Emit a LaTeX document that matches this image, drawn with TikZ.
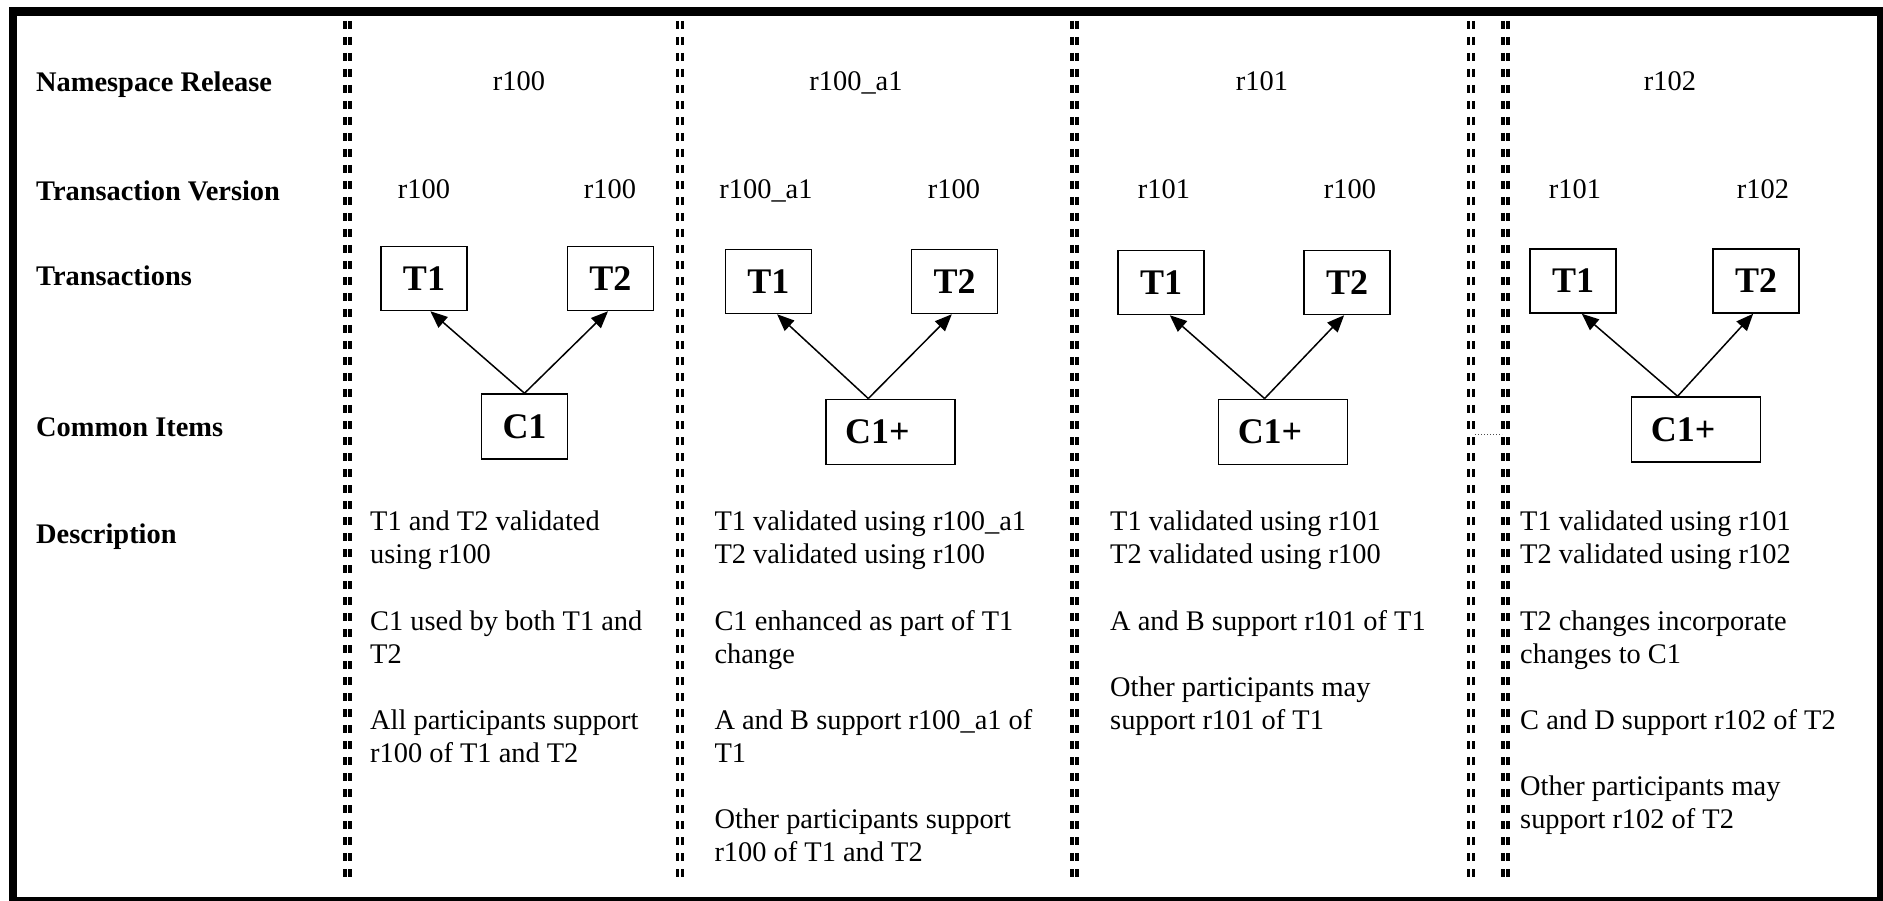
\documentclass[tikz,border=0pt]{standalone}
\usepackage{fontspec}
\setmainfont{Liberation Serif}
\usetikzlibrary{arrows.meta}
\begin{document}
\begin{tikzpicture}[x=1pt,y=-1pt,
  lbl/.style={font=\fontsize{28.4}{33}\selectfont\bfseries, anchor=base west, inner sep=0pt},
  txt/.style={font=\fontsize{28.4}{33}\selectfont, anchor=base west, inner sep=0pt},
  ver/.style={font=\fontsize{28.4}{33}\selectfont, anchor=base, inner sep=0pt},
  tbox/.style={draw, line width=1.5pt, minimum width=86pt, minimum height=64pt, font=\fontsize{36}{40}\selectfont\bfseries, inner sep=0pt},
  cbox/.style={tbox, minimum width=129pt, minimum height=65pt},
  arr/.style={-{Triangle[length=17pt,width=14pt]}, line width=1.5pt},
  sepline/.style={line width=3.3pt, dash pattern=on 8pt off 8pt},
  frame/.style={line width=8.5pt},
]
\useasboundingbox (0,0) rectangle (1883,901);
% frame
\draw[frame] (13,11.5) rectangle (1881.5,901.5);
% separators
\foreach \xx/\nm in {347.5/a,679.7/b,1074.5/c,1471/d,1505.5/e}{
  \coordinate (s\nm t) at (\xx,21);
  \coordinate (s\nm b) at (\xx,882);
  \draw[sepline] ([xshift=-2.5pt]s\nm t) -- ([xshift=-2.5pt]s\nm b);
  \draw[sepline] ([xshift=2.5pt]s\nm t) -- ([xshift=2.5pt]s\nm b);
}
\coordinate (dl) at (1475,434.5);
\coordinate (dr) at (1502,434.5);
\draw[dotted, line width=1pt, black!70] (dl) -- (dr);

% row labels
\node[lbl] (l1) at (36,91.5) {Namespace Release};
\node[lbl] (l2) at (36,200.7) {Transaction Version};
\node[lbl] (l3) at (36,286) {Transactions};
\node[lbl] (l4) at (36,436) {Common Items};
\node[lbl] (l5) at (36,543) {Description};

% namespace releases
\node[ver] (n1) at (519,90.7) {r100};
\node[ver] (n2) at (856,90.7) {r100\_a1};
\node[ver] (n3) at (1262,90.7) {r101};
\node[ver] (n4) at (1670,90.7) {r102};

% transaction versions
\node[ver] (v1a) at (424,198.8) {r100};
\node[ver] (v1b) at (610,198.8) {r100};
\node[ver] (v2a) at (766,198.8) {r100\_a1};
\node[ver] (v2b) at (954,198.8) {r100};
\node[ver] (v3a) at (1164,198.8) {r101};
\node[ver] (v3b) at (1350,198.8) {r100};
\node[ver] (v4a) at (1575,198.8) {r101};
\node[ver] (v4b) at (1763,198.8) {r102};

% column 1
\node[tbox] (t11) at (424,278.5) {T1};
\node[tbox] (t12) at (610.3,278.5) {T2};
\node[tbox, minimum height=65pt] (c1) at (524.5,426.5) {C1};
\draw[arr] (c1.north) -- (t11.-79);
\draw[arr] (c1.north) -- (t12.-94);

% column 2
\node[tbox] (t21) at (768.3,281.5) {T1};
\node[tbox] (t22) at (954.7,281.5) {T2};
\node[cbox] (c2) at (890.3,431.8) {C1+\kern26pt};
\draw[arr] (c2.north-|868.3,0) -- (t21.-75.5);
\draw[arr] (c2.north-|868.3,0) -- (t22.-95);

% column 3
\node[tbox] (t31) at (1161,282.5) {T1};
\node[tbox] (t32) at (1347,282.5) {T2};
\node[cbox] (c3) at (1283,431.8) {C1+\kern26pt};
\draw[arr] (c3.north-|1264.6,0) -- (t31.-75.5);
\draw[arr] (c3.north-|1264.6,0) -- (t32.-95);

% column 4
\node[tbox] (t41) at (1573,281) {T1};
\node[tbox] (t42) at (1756,281) {T2};
\node[cbox] (c4) at (1696,429.5) {C1+\kern26pt};
\draw[arr] (c4.north-|1677.6,0) -- (t41.-75.5);
\draw[arr] (c4.north-|1677.6,0) -- (t42.-95);

% descriptions
\foreach \i/\t in {0/T1 and T2 validated, 1/using r100, 3/C1 used by both T1 and, 4/T2, 6/All participants support, 7/r100 of T1 and T2}{
  \node[txt, name=d1-\i] at (370,530.7+33.1*\i) {\t};
}
\foreach \i/\t in {0/T1 validated using r100\_a1, 1/T2 validated using r100, 3/C1 enhanced as part of T1, 4/change, 6/A and B support r100\_a1 of, 7/T1, 9/Other participants support, 10/r100 of T1 and T2}{
  \node[txt, name=d2-\i] at (714.3,530.7+33.1*\i) {\t};
}
\foreach \i/\t in {0/T1 validated using r101, 1/T2 validated using r100, 3/A and B support r101 of T1, 5/Other participants may, 6/support r101 of T1}{
  \node[txt, name=d3-\i] at (1110,530.7+33.1*\i) {\t};
}
\foreach \i/\t in {0/T1 validated using r101, 1/T2 validated using r102, 3/T2 changes incorporate, 4/changes to C1, 6/C and D support r102 of T2, 8/Other participants may, 9/support r102 of T2}{
  \node[txt, name=d4-\i] at (1520,530.7+33.1*\i) {\t};
}
\end{tikzpicture}
\end{document}
